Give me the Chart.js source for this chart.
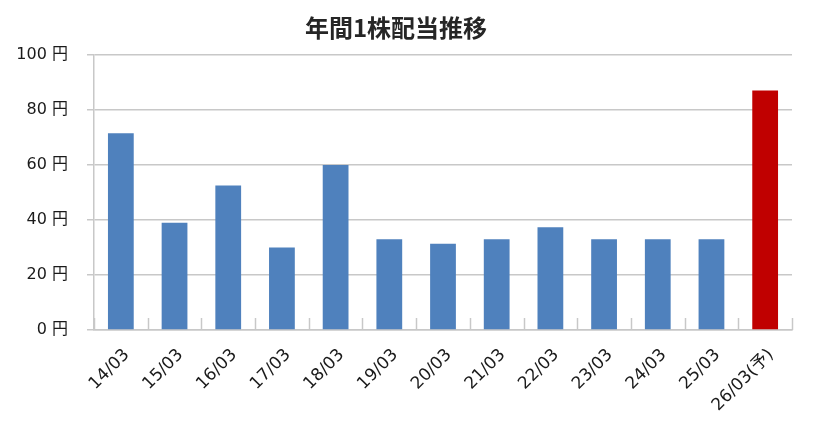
<!DOCTYPE html>
<html>
<head>
<meta charset="utf-8">
<script src="https://cdn.jsdelivr.net/npm/chart.js@4.4.1/dist/chart.umd.min.js"></script>
<style>
  html, body { margin: 0; padding: 0; background: #fff; }
  #wrap { width: 834px; height: 436px; }
</style>
</head>
<body>
<div id="wrap"><canvas id="myChart" width="834" height="436"></canvas></div>
<script>
// 年間1株配当推移 (円)
const periods = ['14/03', '15/03', '16/03', '17/03', '18/03', '19/03', '20/03',
                 '21/03', '22/03', '23/03', '24/03', '25/03', '26/03(予)'];
const dividends = [71.5, 39, 52.5, 30, 60, 33, 31.3, 33, 37.3, 33, 33, 33, 87];
const yTicks = [0, 20, 40, 60, 80, 100];

const FONT = '"DejaVu Sans", "Noto Sans CJK JP", sans-serif';
const TITLE_FONT = '"Noto Sans CJK JP", sans-serif';

const barColors = periods.map(p => p.indexOf('予') >= 0 ? '#c00000' : '#4f81bd');

// short category separators pointing up from the x axis
const innerTicks = {
    id: 'innerTicks',
    afterDatasetsDraw(chart) {
        const x = chart.scales.x;
        const ctx = chart.ctx;
        const half = (x.getPixelForValue(1) - x.getPixelForValue(0)) / 2;
        ctx.save();
        ctx.strokeStyle = '#c8c8c8';
        ctx.lineWidth = 1.5;
        for (let i = 0; i <= periods.length; i++) {
            const px = Math.round(x.getPixelForValue(i) - half) + 0.5;
            ctx.beginPath();
            ctx.moveTo(px, x.top);
            ctx.lineTo(px, x.top - 12);
            ctx.stroke();
        }
        ctx.restore();
    }
};

let myChart = new Chart(document.getElementById('myChart').getContext('2d'), {
    type: 'bar',
    data: {
        labels: periods,
        datasets: [{
            data: dividends,
            backgroundColor: barColors,
            borderWidth: 0,
            barPercentage: 0.48,
            categoryPercentage: 1
        }]
    },
    options: {
        responsive: false,
        animation: false,
        devicePixelRatio: 1,
        layout: { padding: { top: 2, right: 42, bottom: 0, left: 0 } },
        plugins: {
            legend: { display: false },
            tooltip: { enabled: false },
            title: {
                display: true,
                text: '年間1株配当推移',
                color: '#262626',
                font: { family: TITLE_FONT, size: 24, weight: 'bold' },
                padding: { top: 11, bottom: 13 }
            }
        },
        scales: {
            y: {
                min: 0,
                max: 100,
                afterBuildTicks: scale => { scale.ticks = yTicks.map(v => ({ value: v })); },
                afterFit: scale => { scale.width = 94; },
                ticks: {
                    callback: v => v + ' 円',
                    color: '#1a1a1a',
                    padding: 19,
                    font: { family: FONT, size: 16 }
                },
                grid: { color: '#c8c8c8', lineWidth: 1.5, tickLength: 7 },
                border: { color: '#c8c8c8', width: 1.5 }
            },
            x: {
                afterFit: scale => { scale.height = 106; },
                ticks: {
                    color: '#1a1a1a',
                    minRotation: 45,
                    maxRotation: 45,
                    autoSkip: false,
                    padding: 7,
                    labelOffset: 6,
                    font: { family: FONT, size: 17 }
                },
                grid: { display: false },
                border: { color: '#c8c8c8', width: 1.5 }
            }
        }
    },
    plugins: [innerTicks]
});
</script>
</body>
</html>
